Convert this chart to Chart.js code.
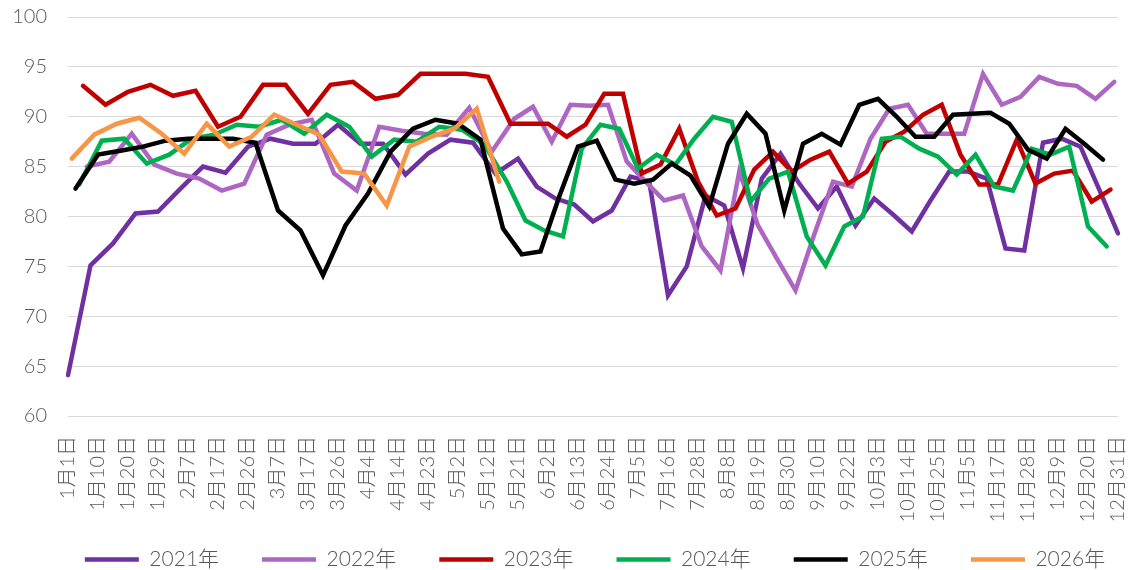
<!DOCTYPE html>
<html>
<head>
<meta charset="utf-8">
<script src="https://cdn.jsdelivr.net/npm/chart.js@4/dist/chart.umd.min.js"></script>
<style>
  html, body { margin: 0; padding: 0; background: #fff; }
  #wrap { width: 1129px; height: 570px; }
</style>
</head>
<body>
<div id="wrap"><canvas id="grafico"></canvas></div>
<script>
// Series: weekly Friday readings, each year starts on its first Friday
const seriesNames = ['2021年', '2022年', '2023年', '2024年', '2025年', '2026年'];
const firstFridays = ['2021-01-01', '2022-01-07', '2023-01-06', '2024-01-05', '2025-01-03', '2026-01-02'];
const seriesColors = ['#7030A0', '#AD67C2', '#C00000', '#00B050', '#000000', '#F79646'];

const v2021 = [64.1, 75.1, 77.3, 80.3, 80.5, 82.8, 85.0, 84.4, 87.0, 87.8, 87.3, 87.3, 89.2,
  87.3, 87.3, 84.2, 86.3, 87.7, 87.4, 84.3, 85.8, 83.0, 81.8, 81.2, 79.5, 80.6,
  84.0, 83.5, 72.1, 75.0, 82.1, 81.1, 74.8, 83.8, 86.3, 83.3, 80.8, 83.0, 79.1,
  81.8, 80.2, 78.5, 81.6, 84.5, 84.5, 83.8, 76.8, 76.6, 87.4, 87.8, 87.0, 82.7, 78.3];
const v2022 = [85.0, 85.5, 88.3, 85.2, 84.3, 83.8, 82.6, 83.3, 88.2, 89.2, 89.7, 84.3,
  82.6, 89.0, 88.6, 88.3, 88.2, 90.9, 86.5, 89.8, 91.0, 87.5, 91.2, 91.1, 91.2,
  85.5, 83.5, 81.6, 82.1, 77.0, 74.6, 84.5, 79.1, 75.8, 72.6, 78.2, 83.5, 83.0, 87.8,
  90.8, 91.2, 88.3, 88.3, 88.3, 94.3, 91.2, 92.0, 94.0, 93.3, 93.1, 91.8, 93.5];
const v2023 = [93.1, 91.2, 92.5, 93.2, 92.1, 92.6, 89.0, 90.0, 93.2, 93.2, 90.3, 93.2, 93.5,
  91.8, 92.2, 94.3, 94.3, 94.3, 94.0, 89.3, 89.3, 89.3, 88.0, 89.2, 92.3, 92.3,
  84.3, 85.2, 88.8, 83.5, 80.1, 80.8, 84.7, 86.5, 84.5, 85.7, 86.5, 83.3, 84.5,
  87.5, 88.5, 90.2, 91.2, 86.2, 83.2, 83.2, 87.7, 83.3, 84.3, 84.6, 81.5, 82.7];
const v2024 = [83.2, 87.6, 87.8, 85.3, 86.2, 87.8, 88.2, 89.2, 89.0, 89.7, 88.3, 90.2, 89.0,
  86.0, 87.7, 87.5, 89.0, 88.7, 87.2, 83.5, 79.6, 78.6, 78.0, 86.8, 89.2, 88.8,
  84.8, 86.2, 85.2, 87.8, 90.0, 89.5, 81.5, 83.8, 84.5, 78.0, 75.1, 79.0, 80.0,
  87.8, 88.0, 86.8, 86.0, 84.2, 86.2, 83.0, 82.6, 86.8, 86.2, 87.0, 79.0, 77.0];
const v2025 = [82.8, 86.2, 86.6, 87.0, 87.6, 87.8, 87.8, 87.8, 87.4, 80.6, 78.6, 74.1, 79.1,
  82.3, 86.5, 88.8, 89.7, 89.3, 87.7, 78.8, 76.2, 76.5, 82.0, 87.0, 87.6, 83.7,
  83.3, 83.7, 85.3, 84.1, 81.0, 87.3, 90.3, 88.3, 80.6, 87.3, 88.3, 87.2, 91.2,
  91.8, 90.0, 88.0, 88.0, 90.2, 90.3, 90.4, 89.3, 86.7, 85.8, 88.8, 87.3, 85.7];
const v2026 = [85.8, 88.2, 89.3, 89.9, 88.3, 86.3, 89.3, 87.0, 88.0, 90.2, 89.2, 88.2, 84.5,
  84.3, 81.1, 87.0, 88.0, 88.8, 90.8, 83.5];
const seriesValues = [v2021, v2022, v2023, v2024, v2025, v2026];

// Eje Y
const yMin = 60;
const yMax = 100;
const yStep = 5;
const labelEvery = 8; // se muestra una etiqueta cada 8 fechas

const fuente = "Lato, 'Noto Sans CJK SC', sans-serif";
const gris = '#595959';

function etiquetaFecha(d) {
    return (d.getUTCMonth() + 1) + '月' + d.getUTCDate() + '日';
}

// fechas de cada serie (semanal)
const fechasSerie = seriesValues.map((vals, i) => {
    const inicio = new Date(firstFridays[i] + 'T00:00:00Z');
    return vals.map((v, k) => new Date(inicio.getTime() + k * 7 * 86400000));
});

// categorias = union de mes/dia de todas las series
const claves = new Map();
fechasSerie.forEach(lista => lista.forEach(d => {
    const clave = (d.getUTCMonth() + 1) * 100 + d.getUTCDate();
    claves.set(clave, etiquetaFecha(d));
}));
const categories = [...claves.keys()].sort((a, b) => a - b).map(k => claves.get(k));

const datasets = seriesNames.map((nombre, i) => ({
    label: nombre,
    data: seriesValues[i].map((v, k) => ({ x: etiquetaFecha(fechasSerie[i][k]), y: v })),
    borderColor: seriesColors[i],
    backgroundColor: seriesColors[i],
    borderWidth: 4.5,
    borderCapStyle: 'round',
    pointRadius: 0,
    pointHoverRadius: 0,
    tension: 0,
    order: seriesNames.length - i // la serie mas reciente queda encima
}));

// leyenda: ocupa poco alto en el layout y se centra bajo el area del grafico
const ajusteLeyenda = {
    id: 'ajusteLeyenda',
    beforeInit(chart) {
        const fitOriginal = chart.legend.fit;
        chart.legend.fit = function () {
            fitOriginal.bind(chart.legend)();
            this.height = 44;
        };
    },
    afterLayout(chart) {
        const leyenda = chart.legend;
        const centro = (chart.chartArea.left + chart.chartArea.right) / 2;
        const dx = centro + 2 - (leyenda.left + leyenda.right) / 2;
        leyenda.left += dx;
        leyenda.right += dx;
        leyenda.top = chart.height - 64;
        leyenda.bottom = chart.height;
    }
};

new Chart(document.getElementById('grafico'), {
    type: 'line',
    data: { labels: categories, datasets: datasets },
    plugins: [ajusteLeyenda],
    options: {
        responsive: true,
        maintainAspectRatio: false,
        animation: false,
        layout: { padding: 0 },
        plugins: {
            tooltip: { enabled: false },
            legend: {
                position: 'bottom',
                labels: {
                    usePointStyle: true,
                    pointStyle: 'line',
                    pointStyleWidth: 54,
                    padding: 43,
                    color: gris,
                    font: { family: fuente, size: 21, weight: 300 },
                    sort: (a, b) => a.datasetIndex - b.datasetIndex
                }
            }
        },
        scales: {
            x: {
                type: 'category',
                offset: false,
                grid: { display: false, drawTicks: false },
                border: { display: false },
                ticks: {
                    autoSkip: false,
                    minRotation: 90,
                    maxRotation: 90,
                    padding: 20,
                    color: gris,
                    font: { family: fuente, size: 20, weight: 300 },
                    callback: function (val, index) {
                        return index % labelEvery === 0 ? this.getLabelForValue(val) : '';
                    }
                },
                afterFit: (escala) => {
                    escala.height = 110;
                    escala.paddingLeft = 0;
                    escala.paddingRight = 11;
                }
            },
            y: {
                min: yMin,
                max: yMax,
                grid: { color: '#D9D9D9', lineWidth: 1, drawTicks: false },
                border: { display: false },
                ticks: {
                    stepSize: yStep,
                    padding: 21,
                    color: gris,
                    font: { family: fuente, size: 20, weight: 300 }
                },
                afterFit: (escala) => {
                    escala.width = 68;
                    escala.paddingTop = 17;
                    escala.paddingBottom = 0;
                }
            }
        }
    }
});
</script>
</body>
</html>
